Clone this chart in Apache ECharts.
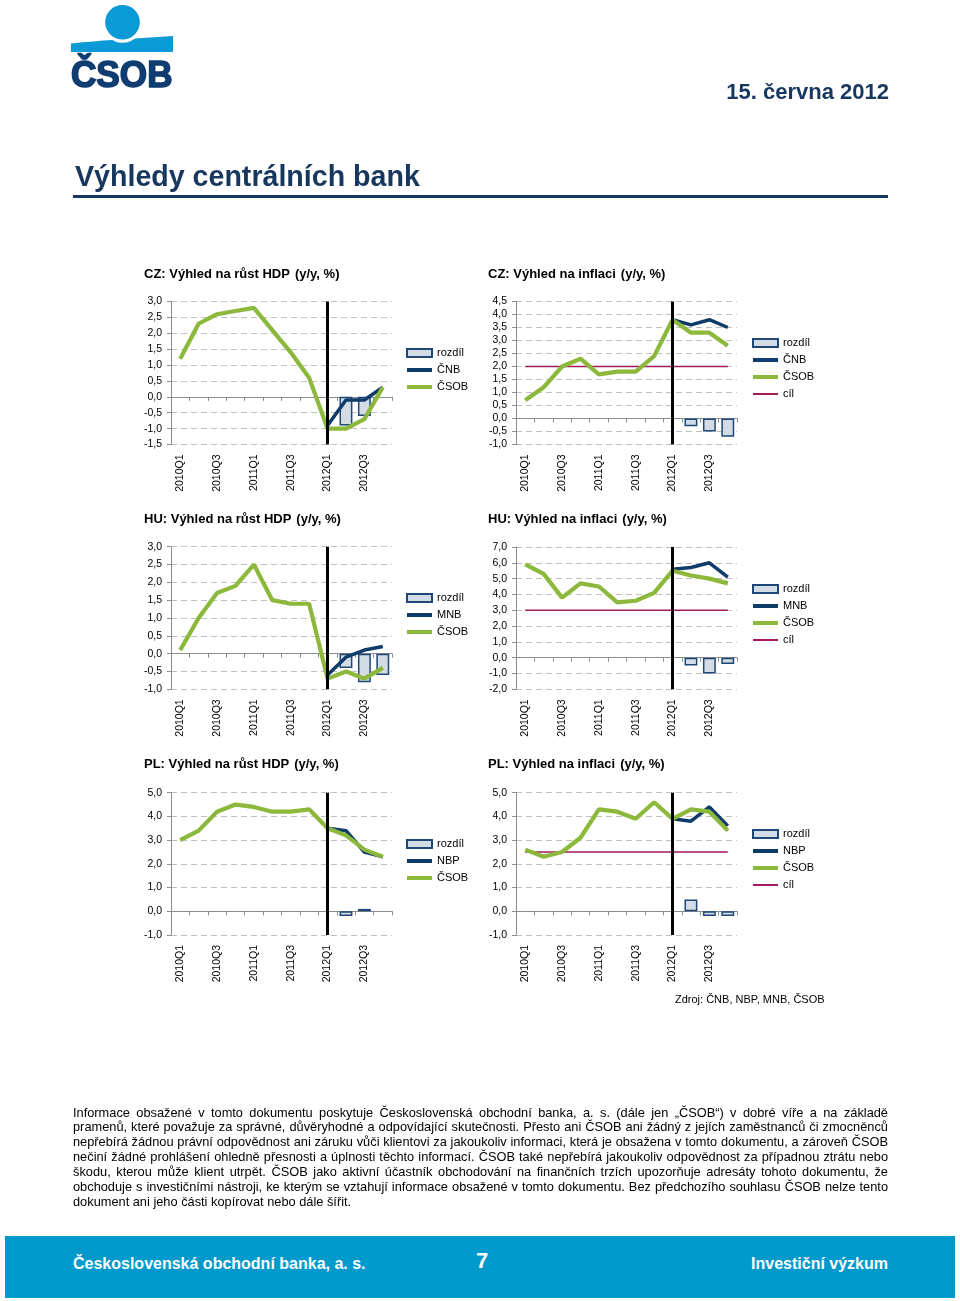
<!DOCTYPE html>
<html>
<head>
<meta charset="utf-8">
<script src="https://cdn.jsdelivr.net/npm/echarts@6/dist/echarts.min.js"></script>
<style>
html,body{margin:0;padding:0;background:#fff;}
body{width:960px;height:1301px;position:relative;overflow:hidden;font-family:'Liberation Sans',Arial,sans-serif;}
#chart{position:absolute;left:0;top:0;width:960px;height:1301px;}
.abs{position:absolute;white-space:nowrap;line-height:1;}
#date{right:71px;top:81px;font-size:22px;font-weight:bold;color:#17375e;}
#title{left:75px;top:161.5px;font-size:28.6px;font-weight:bold;color:#17375e;}
#rule{position:absolute;left:73px;top:194.5px;width:815px;height:3px;background:#17375e;}
#source{left:675px;top:994px;font-size:11px;color:#000;}
#disc{position:absolute;left:73px;top:1105.5px;width:815px;font-size:12.8px;line-height:14.85px;color:#000;}
#disc div{white-space:nowrap;text-align:justify;text-align-last:justify;}
#disc div.last{text-align-last:left;}
#foot{position:absolute;left:5px;top:1236px;width:950px;height:62px;background:#0099cc;}
.ft{position:absolute;white-space:nowrap;line-height:1;color:#fff;font-weight:bold;}
</style>
</head>
<body>
<div id="chart"></div>
<svg style="position:absolute;left:0;top:0" width="200" height="100">
  <path d="M71,43.5 Q95,41 112,40 L173,36 L173,52 L71,52 Z" fill="#0a9ad6"/>
  <circle cx="122.5" cy="22.2" r="20.5" fill="#fff"/>
  <circle cx="122.5" cy="22.2" r="17.3" fill="#0a9ad6"/>
  <text x="71" y="87.3" font-family="Liberation Sans, Arial, sans-serif" font-weight="bold" font-size="36" fill="#0f3c71" stroke="#0f3c71" stroke-width="1.6" textLength="101.5" lengthAdjust="spacingAndGlyphs">ČSOB</text>
</svg>
<div id="date" class="abs">15. června 2012</div>
<div id="title" class="abs">Výhledy centrálních bank</div>
<div id="rule"></div>
<div id="source" class="abs">Zdroj: ČNB, NBP, MNB, ČSOB</div>
<div id="disc">
<div>Informace obsažené v tomto dokumentu poskytuje Československá obchodní banka, a. s. (dále jen „ČSOB“) v dobré víře a na základě</div>
<div>pramenů, které považuje za správné, důvěryhodné a odpovídající skutečnosti. Přesto ani ČSOB ani žádný z jejích zaměstnanců či zmocněnců</div>
<div>nepřebírá žádnou právní odpovědnost ani záruku vůči klientovi za jakoukoliv informaci, která je obsažena v tomto dokumentu, a zároveň ČSOB</div>
<div>nečiní žádné prohlášení ohledně přesnosti a úplnosti těchto informací. ČSOB také nepřebírá jakoukoliv odpovědnost za případnou ztrátu nebo</div>
<div>škodu, kterou může klient utrpět. ČSOB jako aktivní účastník obchodování na finančních trzích upozorňuje adresáty tohoto dokumentu, že</div>
<div>obchoduje s investičními nástroji, ke kterým se vztahují informace obsažené v tomto dokumentu. Bez předchozího souhlasu ČSOB nelze tento</div>
<div class="last">dokument ani jeho části kopírovat nebo dále šířit.</div>
</div>
<div id="foot"></div>
<div class="ft" style="left:73px;top:1255.5px;font-size:16px;">Československá obchodní banka, a. s.</div>
<div class="ft" style="left:476px;top:1249.5px;font-size:22px;">7</div>
<div class="ft" style="right:72px;top:1255.5px;font-size:16px;">Investiční výzkum</div>
<script>
// ---------- data ----------
const quarters = ['2010Q1','2010Q2','2010Q3','2010Q4','2011Q1','2011Q2','2011Q3','2011Q4','2012Q1','2012Q2','2012Q3','2012Q4'];

// CZ: GDP growth
const czGdpCsob = [1.2, 2.3, 2.6, 2.7, 2.8, 2.1, 1.4, 0.6, -1.0, -1.0, -0.7, 0.3];
const czGdpCnb  = [null, null, null, null, null, null, null, null, -0.9, -0.1, -0.1, 0.3];
const czGdpDiff = [null, null, null, null, null, null, null, null, null, -0.9, -0.6, null];

// CZ: inflation
const czInfCsob   = [0.7, 1.2, 2.0, 2.3, 1.7, 1.8, 1.8, 2.4, 3.8, 3.3, 3.3, 2.8];
const czInfCnb    = [null, null, null, null, null, null, null, null, 3.8, 3.6, 3.8, 3.5];
const czInfDiff   = [null, null, null, null, null, null, null, null, null, -0.3, -0.5, -0.7];
const czInfTarget = [2.0, 2.0, 2.0, 2.0, 2.0, 2.0, 2.0, 2.0, 2.0, 2.0, 2.0, 2.0];

// HU: GDP growth
const huGdpCsob = [0.1, 1.0, 1.7, 1.9, 2.5, 1.5, 1.4, 1.4, -0.7, -0.5, -0.7, -0.4];
const huGdpMnb  = [null, null, null, null, null, null, null, null, -0.6, -0.1, 0.1, 0.2];
const huGdpDiff = [null, null, null, null, null, null, null, null, null, -0.4, -0.8, -0.6];

// HU: inflation
const huInfCsob   = [5.9, 5.3, 3.8, 4.7, 4.5, 3.5, 3.6, 4.1, 5.5, 5.2, 5.0, 4.7];
const huInfMnb    = [null, null, null, null, null, null, null, null, 5.6, 5.7, 6.0, 5.1];
const huInfDiff   = [null, null, null, null, null, null, null, null, null, -0.5, -1.0, -0.4];
const huInfTarget = [3.0, 3.0, 3.0, 3.0, 3.0, 3.0, 3.0, 3.0, 3.0, 3.0, 3.0, 3.0];

// PL: GDP growth
const plGdpCsob = [3.0, 3.4, 4.2, 4.5, 4.4, 4.2, 4.2, 4.3, 3.5, 3.2, 2.6, 2.3];
const plGdpNbp  = [null, null, null, null, null, null, null, null, 3.5, 3.4, 2.5, 2.3];
const plGdpDiff = [null, null, null, null, null, null, null, null, null, -0.2, 0.1, null];

// PL: inflation
const plInfCsob   = [2.6, 2.3, 2.5, 3.1, 4.3, 4.2, 3.9, 4.6, 3.9, 4.3, 4.2, 3.4];
const plInfNbp    = [null, null, null, null, null, null, null, null, 3.9, 3.8, 4.4, 3.6];
const plInfDiff   = [null, null, null, null, null, null, null, null, null, 0.5, -0.2, -0.2];
const plInfTarget = [2.5, 2.5, 2.5, 2.5, 2.5, 2.5, 2.5, 2.5, 2.5, 2.5, 2.5, 2.5];

const titles = ['CZ: Výhled na růst HDP', 'CZ: Výhled na inflaci', 'HU: Výhled na růst HDP', 'HU: Výhled na inflaci', 'PL: Výhled na růst HDP', 'PL: Výhled na inflaci'];
const titleUnit = '(y/y, %)';
const bankNames = ['ČNB', 'ČNB', 'MNB', 'MNB', 'NBP', 'NBP'];
const splitQuarter = '2012Q1';

// ---------- layout / style ----------
const FF = "'Liberation Sans', Arial, sans-serif";
const GREEN = '#8cb83c', NAVY = '#0f3b68', TARGET = '#a3195b';
const AXIS = '#8c8c8c', GRIDC = '#c0c0c0';
// legend icons: full 25x8 bounding box, visible band in the middle
const ICON_THICK = 'path://M0,0L25,0L0,0Z M0,2L25,2L25,6L0,6Z M0,8L25,8L0,8Z';
const ICON_THIN  = 'path://M0,0L25,0L0,0Z M0,3.1L25,3.1L25,4.9L0,4.9Z M0,8L25,8L0,8Z';

const panels = [
  {csob: czGdpCsob, bank: czGdpCnb, diff: czGdpDiff, target: null, min: -1.5, max: 3.0, step: 0.5,
   grid: {left: 171, top: 301.5, width: 221, height: 143}, tpos: [144, 265], lpos: [406, 346.5]},
  {csob: czInfCsob, bank: czInfCnb, diff: czInfDiff, target: czInfTarget, min: -1.0, max: 4.5, step: 0.5,
   grid: {left: 516, top: 301.5, width: 221, height: 143}, tpos: [488, 265], lpos: [752, 336.5]},
  {csob: huGdpCsob, bank: huGdpMnb, diff: huGdpDiff, target: null, min: -1.0, max: 3.0, step: 0.5,
   grid: {left: 171, top: 546.7, width: 221, height: 142.6}, tpos: [144, 510], lpos: [406, 591.5]},
  {csob: huInfCsob, bank: huInfMnb, diff: huInfDiff, target: huInfTarget, min: -2.0, max: 7.0, step: 1.0,
   grid: {left: 516, top: 547, width: 221, height: 142.3}, tpos: [488, 510], lpos: [752, 582.5]},
  {csob: plGdpCsob, bank: plGdpNbp, diff: plGdpDiff, target: null, min: -1.0, max: 5.0, step: 1.0,
   grid: {left: 171, top: 792.7, width: 221, height: 142.3}, tpos: [144, 755], lpos: [406, 837.5]},
  {csob: plInfCsob, bank: plInfNbp, diff: plInfDiff, target: plInfTarget, min: -1.0, max: 5.0, step: 1.0,
   grid: {left: 516, top: 792.7, width: 221, height: 142.3}, tpos: [488, 755], lpos: [752, 827.5]}
];

const option = {
  animation: false,
  textStyle: {fontFamily: FF},
  title: [], legend: [], grid: [], xAxis: [], yAxis: [], series: []
};

panels.forEach((p, k) => {
  option.grid.push(Object.assign({containLabel: false}, p.grid));
  option.title.push({
    left: p.tpos[0], top: p.tpos[1], padding: 0,
    text: '{b|' + titles[k] + '} {n|' + titleUnit + '}',
    textStyle: {rich: {
      b: {fontFamily: FF, fontSize: 13, fontWeight: 'bold', color: '#000'},
      n: {fontFamily: FF, fontSize: 13, color: '#000'}
    }}
  });
  // label axis (bottom of plot)
  option.xAxis.push({
    type: 'category', gridIndex: k, data: quarters, position: 'bottom', boundaryGap: true,
    axisLine: {show: false, onZero: false}, axisTick: {show: false}, splitLine: {show: false},
    axisLabel: {rotate: 90, interval: 1, fontSize: 10.5, margin: 10, color: '#000', fontFamily: FF}
  });
  // axis line crossing at zero
  option.xAxis.push({
    type: 'category', gridIndex: k, data: quarters, position: 'bottom', boundaryGap: true,
    axisLine: {show: true, onZero: true, lineStyle: {color: AXIS, width: 1}},
    axisTick: {show: true, interval: 0, length: 4, inside: false, lineStyle: {color: AXIS}},
    axisLabel: {show: false}, splitLine: {show: false}
  });
  option.yAxis.push({
    type: 'value', gridIndex: k, min: p.min, max: p.max, interval: p.step,
    axisLine: {show: true, lineStyle: {color: AXIS, width: 1}},
    axisTick: {show: true, length: 4, lineStyle: {color: AXIS}},
    axisLabel: {fontSize: 10.5, margin: 9, color: '#000', fontFamily: FF,
      formatter: v => v.toFixed(1).replace('.', ',')},
    splitLine: {show: true, lineStyle: {color: GRIDC, type: [6, 4], width: 1}}
  });
  const xi = 2 * k;
  option.series.push({
    name: 'rozdíl', type: 'bar', xAxisIndex: xi, yAxisIndex: k, data: p.diff,
    barWidth: '70%', z: 1,
    itemStyle: {color: '#d3dbe4', borderColor: '#1d4878', borderWidth: 1.5}
  });
  if (p.target) {
    option.series.push({
      name: 'cíl', type: 'line', xAxisIndex: xi, yAxisIndex: k, data: p.target,
      symbol: 'none', z: 2, lineStyle: {color: TARGET, width: 1.5}, itemStyle: {color: TARGET}
    });
  }
  option.series.push({
    name: bankNames[k], type: 'line', xAxisIndex: xi, yAxisIndex: k, data: p.bank,
    symbol: 'none', z: 3, lineStyle: {color: NAVY, width: 3.5}, itemStyle: {color: NAVY}
  });
  option.series.push({
    name: 'ČSOB', type: 'line', xAxisIndex: xi, yAxisIndex: k, data: p.csob,
    symbol: 'none', z: 4, lineStyle: {color: GREEN, width: 4.2}, itemStyle: {color: GREEN}
  });
  option.series.push({
    name: 'split' + k, type: 'line', xAxisIndex: xi, yAxisIndex: k, data: [],
    z: 5, silent: true,
    markLine: {silent: true, symbol: ['none', 'none'], label: {show: false},
      lineStyle: {color: '#000', width: 3, type: 'solid'},
      data: [{xAxis: splitQuarter}]}
  });
  const items = [
    {name: 'rozdíl', icon: 'rect'},
    {name: bankNames[k], icon: ICON_THICK, itemStyle: {color: NAVY, borderWidth: 0}},
    {name: 'ČSOB', icon: ICON_THICK, itemStyle: {color: GREEN, borderWidth: 0}}
  ];
  if (p.target) items.push({name: 'cíl', icon: ICON_THIN, itemStyle: {color: TARGET, borderWidth: 0}});
  option.legend.push({
    left: p.lpos[0], top: p.lpos[1], orient: 'vertical', padding: 0,
    itemWidth: 25, itemHeight: 8, itemGap: 4, selectedMode: false,
    data: items,
    textStyle: {fontSize: 11, color: '#000', lineHeight: 13, fontFamily: FF}
  });
});

const chart = echarts.init(document.getElementById('chart'), null, {renderer: 'canvas'});
chart.setOption(option);
</script>
</body>
</html>
